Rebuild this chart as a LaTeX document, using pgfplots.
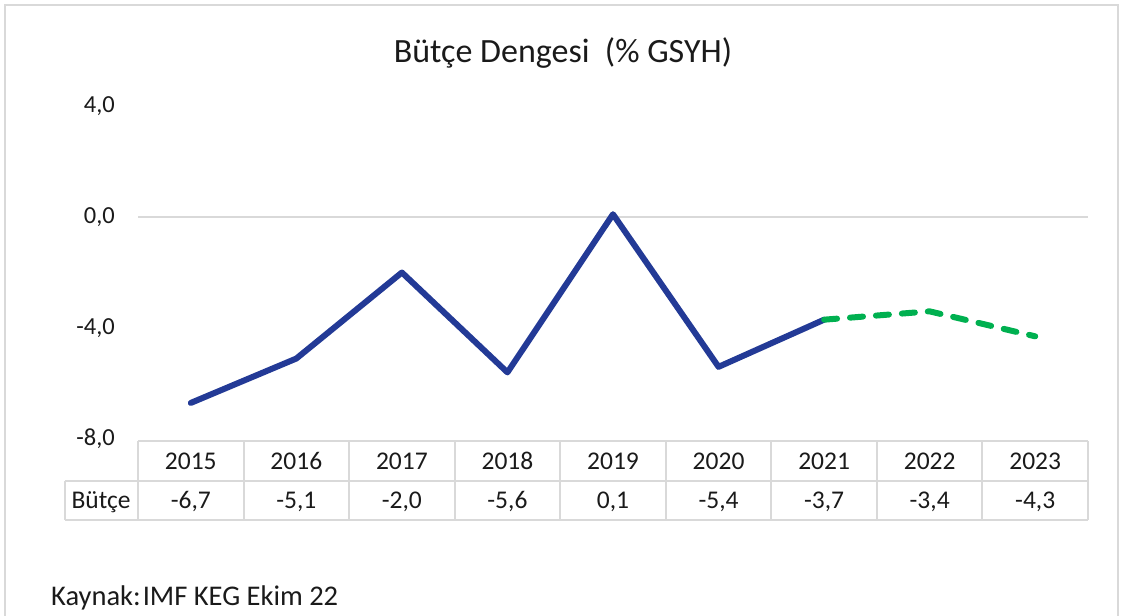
\documentclass[border=0pt]{standalone}
\usepackage{pgfplots}
\pgfplotsset{compat=1.18}
\usepackage{fontspec}
\setmainfont{Carlito}
\definecolor{gridgray}{HTML}{D9D9D9}
\definecolor{lineblue}{HTML}{233A96}
\definecolor{linegreen}{HTML}{00B050}
\definecolor{txt}{HTML}{1A1A1A}
\begin{document}
\begin{tikzpicture}[x=1pt,y=-1pt]
\path[use as bounding box] (0,0) rectangle (1128,616);
% outer frame
\draw[gridgray, line width=2pt] (5,630) -- (5,5) -- (1118,5) -- (1118,630);
% title
\node[anchor=base, font=\fontsize{34}{40}\selectfont, text=txt] at (563,62) {Bütçe Dengesi\ \ (\% GSYH)};
\begin{axis}[
  at={(138pt,-439pt)}, anchor=south west,
  scale only axis, width=950pt, height=333pt,
  xmin=-0.5, xmax=8.5, ymin=-8, ymax=4,
  axis line style={draw=none}, major tick length=0pt,
  xtick=\empty, ytick={-8,-4,0,4},
  yticklabel style={font=\fontsize{24.5}{28}\selectfont, text=txt, anchor=east, inner sep=0pt, xshift=-23pt},
  /pgf/number format/.cd, use comma, fixed, fixed zerofill, precision=1, assume math mode=true,
  clip=false,
]
\draw[gridgray, line width=1.8pt] (axis cs:-0.5,0) -- (axis cs:8.5,0);
\addplot[lineblue, line width=6pt, line join=round, line cap=round] coordinates {
 (0,-6.7) (1,-5.1) (2,-2.0) (3,-5.6) (4,0.1) (5,-5.4) (6,-3.7)};
\addplot[linegreen, line width=6pt, line join=round, line cap=round, dash pattern=on 13pt off 13pt] coordinates {
 (6,-3.7) (7,-3.4) (8,-4.3)};
\end{axis}
% data table
\draw[gridgray, line width=2pt] (138,441) -- (1088,441);
\draw[gridgray, line width=2pt] (65,481) -- (1088,481);
\draw[gridgray, line width=2pt] (65,520) -- (1088,520);
\draw[gridgray, line width=2pt] (65,481) -- (65,520);
\foreach \k in {0,...,9} {
  \draw[gridgray, line width=2pt] ({138+\k*105.556},441) -- ({138+\k*105.556},520);
}
\foreach \yr [count=\i from 0] in {2015,2016,2017,2018,2019,2020,2021,2022,2023} {
  \node[font=\fontsize{25.5}{30}\selectfont, text=txt, anchor=base] at ({138+(\i+0.5)*105.556},469) {\yr};
}
\foreach \v [count=\i from 0] in {{-6,7},{-5,1},{-2,0},{-5,6},{0,1},{-5,4},{-3,7},{-3,4},{-4,3}} {
  \node[font=\fontsize{25.5}{30}\selectfont, text=txt, anchor=base] at ({138+(\i+0.5)*105.556},508) {\v};
}
\node[font=\fontsize{25.5}{30}\selectfont, text=txt, anchor=base] at (101,508) {Bütçe};
% source
\node[font=\fontsize{28.5}{34}\selectfont, text=txt, anchor=base west, inner sep=0pt] at (51,605) {Kaynak:\kern2pt IMF KEG Ekim 22};
\end{tikzpicture}
\end{document}
